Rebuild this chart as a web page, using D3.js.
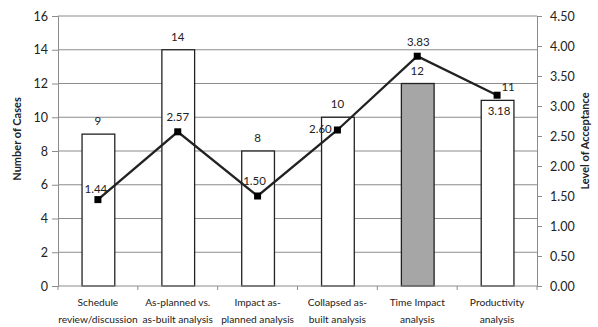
<!DOCTYPE html>
<html><head><meta charset="utf-8">
<script src="https://cdn.jsdelivr.net/npm/d3@7"></script>
<style>body{margin:0;background:#fff}svg{display:block}text{font-family:Lato,"Open Sans",sans-serif;fill:#222}</style>
</head><body><svg id="c" width="598" height="327"></svg>
<script>
const categories = [["Schedule","review/discussion"],["As-planned vs.","as-built analysis"],["Impact as-","planned analysis"],["Collapsed as-","built analysis"],["Time Impact","analysis"],["Productivity","analysis"]];
const cases = [9,14,8,10,12,11];
const acceptance = [1.44,2.57,1.50,2.60,3.83,3.18];
const leftTicks = [0,2,4,6,8,10,12,14,16];
const rightTicks = [0,0.5,1,1.5,2,2.5,3,3.5,4,4.5];
// label offsets (dx,dy) relative to marker, for line labels
const lineLabelPos = [[-2,-7],[0,-11],[-3,-11],[-17,3],[1,-10],[2,20]];
const barLabelDx = [0,0,0,0,0,11];

const svg = d3.select("#c");
const L=58,R=537,T=16,B=286;
const x = d3.scaleBand().domain(d3.range(6)).range([L,R]).paddingInner(0.59).paddingOuter(0.295);
const xb = d3.scaleBand().domain(d3.range(6)).range([L,R]);
const yL = d3.scaleLinear().domain([0,16]).range([B,T]);
const yR = d3.scaleLinear().domain([0,4.5]).range([B,T]);

// gridlines
svg.append("g").selectAll("line").data(leftTicks.slice(1)).join("line")
  .attr("x1",L).attr("x2",R).attr("y1",d=>yL(d)).attr("y2",d=>yL(d))
  .attr("stroke","#8c8c8c").attr("stroke-width",1);

// left axis
const gl = svg.append("g").attr("transform",`translate(${L},0)`)
  .call(d3.axisLeft(yL).tickValues(leftTicks).tickSize(6).tickPadding(4));
gl.select(".domain").attr("stroke","#8c8c8c");
gl.selectAll(".tick line").attr("stroke","#8c8c8c");
gl.selectAll("text").style("font-size","12.5px").attr("fill","#222");

// right axis
const gr = svg.append("g").attr("transform",`translate(${R},0)`)
  .call(d3.axisRight(yR).tickValues(rightTicks).tickFormat(d3.format(".2f")).tickSize(5).tickPadding(8));
gr.select(".domain").attr("stroke","#8c8c8c");
gr.selectAll(".tick line").attr("stroke","#8c8c8c");
gr.selectAll("text").style("font-size","12.5px").attr("fill","#222");

// bars
svg.append("g").selectAll("rect").data(cases).join("rect")
  .attr("x",(d,i)=>x(i)+0.5).attr("width",x.bandwidth())
  .attr("y",d=>yL(d)).attr("height",d=>B-yL(d))
  .attr("fill",(d,i)=>i===4?"#a6a6a6":"#fff").attr("stroke","#222").attr("stroke-width",1.3);

// bottom axis
const gb = svg.append("g").attr("transform",`translate(0,${B})`);
gb.append("line").attr("x1",L).attr("x2",R).attr("stroke","#8c8c8c");
gb.selectAll("line.t").data(d3.range(7)).join("line").attr("class","t")
  .attr("x1",i=>L+i*xb.step()).attr("x2",i=>L+i*xb.step()).attr("y1",0).attr("y2",4).attr("stroke","#8c8c8c");
const cl = gb.selectAll("text").data(categories).join("text")
  .attr("x",(d,i)=>xb(i)+xb.bandwidth()/2).attr("text-anchor","middle").style("font-size","10.2px");
cl.append("tspan").attr("x",(d,i)=>xb(i)+xb.bandwidth()/2).attr("y",20).text(d=>d[0]);
cl.append("tspan").attr("x",(d,i)=>xb(i)+xb.bandwidth()/2).attr("y",37).text(d=>d[1]);

// bar labels
svg.append("g").selectAll("text").data(cases).join("text")
  .attr("x",(d,i)=>xb(i)+xb.bandwidth()/2+barLabelDx[i]).attr("y",d=>yL(d)-9)
  .attr("text-anchor","middle").style("font-size","11.5px").text(d=>d);

// line
const cx = i=>xb(i)+xb.bandwidth()/2;
svg.append("path").datum(acceptance)
  .attr("d",d3.line().x((d,i)=>cx(i)).y(d=>yR(d)))
  .attr("fill","none").attr("stroke","#222").attr("stroke-width",2.3);
svg.append("g").selectAll("rect").data(acceptance).join("rect")
  .attr("x",(d,i)=>cx(i)-3.5).attr("y",d=>yR(d)-3.5).attr("width",7).attr("height",7).attr("fill","#000");
svg.append("g").selectAll("text").data(acceptance).join("text")
  .attr("x",(d,i)=>cx(i)+lineLabelPos[i][0]).attr("y",(d,i)=>yR(d)+lineLabelPos[i][1])
  .attr("text-anchor","middle").style("font-size","11.5px").text(d=>d3.format(".2f")(d));

// axis titles
svg.append("text").attr("transform","translate(21,139) rotate(-90)").attr("text-anchor","middle")
  .style("font-size","11px").style("font-weight","bold").text("Number of Cases");
svg.append("text").attr("transform","translate(589,141) rotate(-90)").attr("text-anchor","middle")
  .style("font-size","11px").style("font-weight","bold").text("Level of Acceptance");
</script></body></html>
